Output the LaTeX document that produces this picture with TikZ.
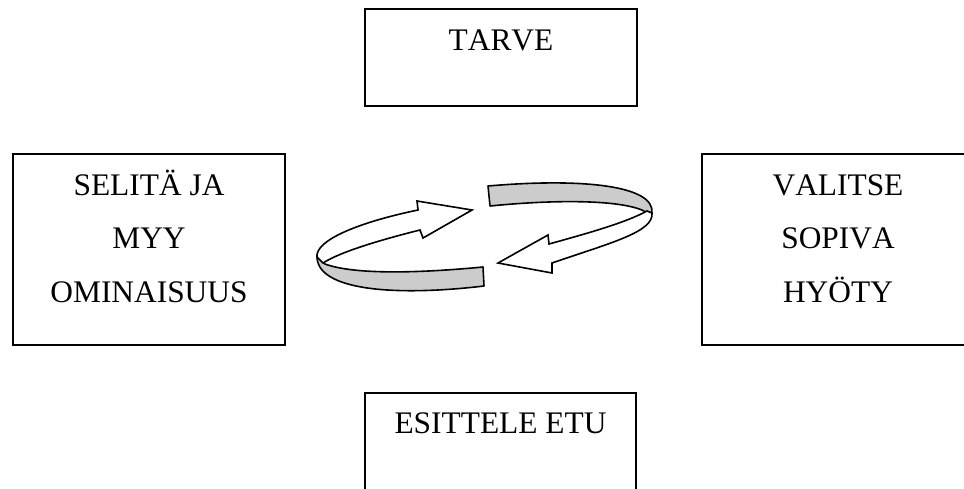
\documentclass[tikz,border=0pt]{standalone}
\usepackage{fontspec}
\setmainfont[Kerning=Off]{Liberation Serif}
\definecolor{ribbon}{RGB}{204,204,204}
\tikzset{
  box/.style={draw=black, line width=2pt, fill=white, inner sep=0pt},
  lbl/.style={inner sep=0pt, anchor=base, font=\fontsize{31.4}{36}\selectfont},
  band/.style={draw=black, line width=1.6pt, line join=round, fill=ribbon},
  head/.style={draw=black, line width=1.6pt, line join=miter, fill=white}
}
\begin{document}
\begin{tikzpicture}[x=1pt,y=-1pt]
\useasboundingbox (0,0) rectangle (964,488);
\clip (0,0) rectangle (964,488);
\fill[white] (0,0) rectangle (964,488);
% boxes
\node[box, minimum width=272pt, minimum height=97pt] (tarve) at (501,57.5) {};
\node[box, minimum width=272pt, minimum height=191pt] (selita) at (149,249.5) {};
\node[box, minimum width=272pt, minimum height=191pt] (valitse) at (838,249.5) {};
\node[box, minimum width=271pt, minimum height=97pt] (esittele) at (500.5,441.5) {};
% texts
\node[lbl] (t1) at (501,50) {TARVE};
\node[lbl] (s1) at (149,195) {SELITÄ JA};
\node[lbl] (s2) at (149,248.5) {MYY};
\node[lbl] (s3) at (149,302) {OMINAISUUS};
\node[lbl] (v1) at (838,195) {VALITSE};
\node[lbl] (v2) at (838,248.5) {SOPIVA};
\node[lbl] (v3) at (838,302) {HYÖTY};
\node[lbl] (e1) at (500.5,433) {ESITTELE ETU};
% upper-right ribbon arrow (points left)
\draw[band] (488,186) .. controls (580,178) and (655,185) .. (652,213)
  -- (646,212) .. controls (625,200) and (560,199) .. (490,206) -- cycle;
\draw[head] (652,213) .. controls (654,232) and (610,243) .. (552,263)
  -- (552,273) -- (498,263) -- (548,235) -- (549,244)
  .. controls (585,234) and (625,223) .. (647,211) -- cycle;
% lower-left ribbon arrow (points right)
\draw[band] (483,267) -- (484,286) .. controls (400,296) and (315,292) .. (317,255)
  -- (325,264) .. controls (355,275) and (420,273) .. (483,267) -- cycle;
\draw[head] (317,257) .. controls (315,240) and (360,222) .. (418,210)
  -- (417,201) -- (472,210) -- (423,238) -- (420,230)
  .. controls (380,240) and (340,252) .. (323,263) -- cycle;
\end{tikzpicture}
\end{document}
